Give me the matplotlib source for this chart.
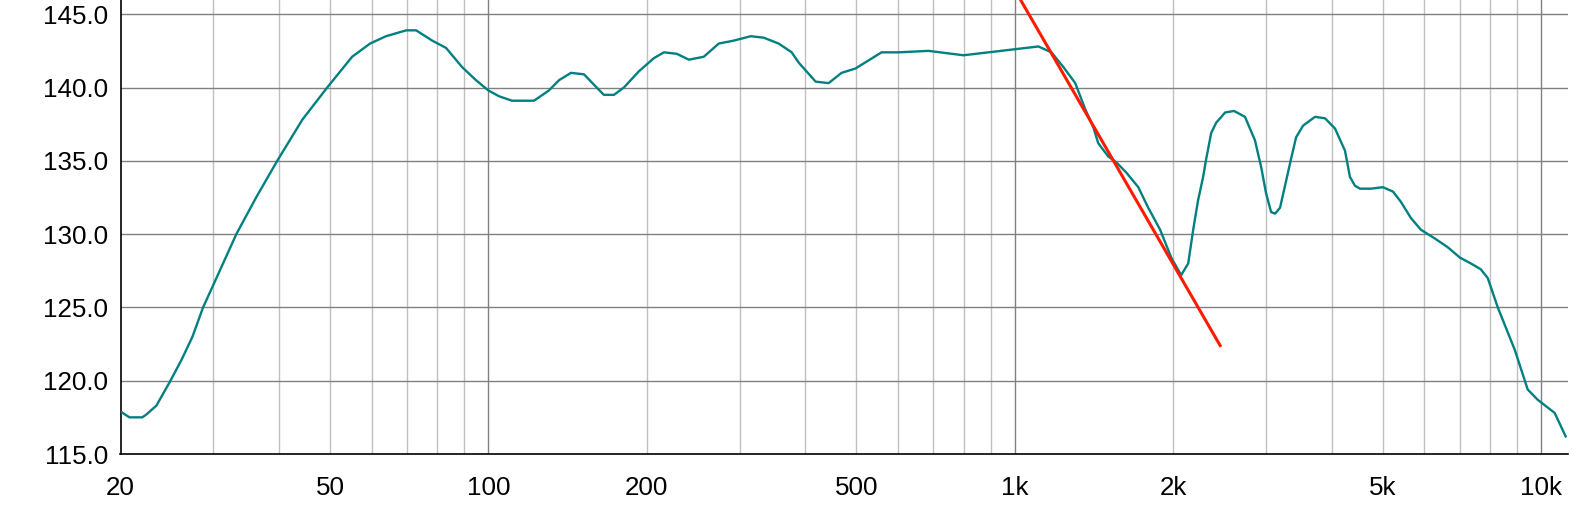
import matplotlib
matplotlib.use("Agg")
import matplotlib.pyplot as plt
from matplotlib.ticker import FixedLocator, NullLocator

plt.rcParams['font.family'] = ['Liberation Sans', 'DejaVu Sans']

# Frequency response (Hz)
freq = [20.0, 20.8, 22.0, 22.4, 23.4, 24.0, 24.8, 26.1, 27.4, 28.7,
        29.9, 33.2, 36.2, 39.7, 44.3, 49.4, 55.1, 59.6, 63.9, 69.8,
        72.9, 78.2, 83.1, 89.1, 94.7, 100.0, 104.8, 110.9, 122.1, 130.3,
        136.2, 143.5, 151.9, 158.6, 165.7, 173.2, 180.9, 193.1, 206.2, 215.5,
        228.0, 240.4, 256.6, 274.0, 292.6, 315.1, 333.4, 356.0, 376.9, 388.6,
        418.6, 443.0, 468.8, 498.4, 558.4, 601.6, 685.6, 799.0, 891.4, 994.4,
        1109, 1174, 1237, 1303, 1362, 1410, 1441, 1505, 1559, 1629,
        1717, 1793, 1889, 1983, 2071, 2136, 2183, 2230, 2280, 2310,
        2362, 2414, 2511, 2610, 2738, 2860, 2938, 3002, 3070, 3124,
        3192, 3262, 3348, 3424, 3530, 3720, 3886, 4060, 4240, 4334,
        4430, 4528, 4752, 5006, 5232, 5416, 5658, 5910, 6284, 6650,
        7010, 7354, 7682, 7920, 8274, 8914, 9432, 9854, 10614, 11136]
# Sound pressure level (dB)
spl = [117.9, 117.5, 117.5, 117.7, 118.3, 119.0, 119.9, 121.4, 123.0, 125.0,
       126.4, 130.0, 132.5, 135.0, 137.8, 140.0, 142.1, 143.0, 143.5, 143.9,
       143.9, 143.2, 142.7, 141.4, 140.5, 139.8, 139.4, 139.1, 139.1, 139.8,
       140.5, 141.0, 140.9, 140.2, 139.5, 139.5, 140.0, 141.1, 142.0, 142.4,
       142.3, 141.9, 142.1, 143.0, 143.2, 143.5, 143.4, 143.0, 142.4, 141.7,
       140.4, 140.3, 141.0, 141.3, 142.4, 142.4, 142.5, 142.2, 142.4, 142.6,
       142.8, 142.4, 141.4, 140.3, 138.5, 137.3, 136.2, 135.3, 134.9, 134.2,
       133.2, 131.8, 130.3, 128.4, 127.2, 128.0, 130.3, 132.3, 133.9, 135.1,
       136.9, 137.6, 138.3, 138.4, 138.0, 136.4, 134.6, 132.8, 131.5, 131.4,
       131.8, 133.3, 135.1, 136.6, 137.4, 138.0, 137.9, 137.2, 135.7, 133.9,
       133.3, 133.1, 133.1, 133.2, 132.9, 132.2, 131.1, 130.3, 129.7, 129.1,
       128.4, 128.0, 127.6, 127.0, 125.0, 122.1, 119.4, 118.7, 117.8, 116.2]

# Red slope line (Hz, dB)
slope_freq = [1025, 2456]
slope_spl = [146.0, 122.4]

y_ticks = [115.0, 120.0, 125.0, 130.0, 135.0, 140.0, 145.0]
x_ticks = [20, 50, 100, 200, 500, 1000, 2000, 5000, 10000]
x_labels = ["20", "50", "100", "200", "500", "1k", "2k", "5k", "10k"]
minor_grid = [30, 40, 50, 60, 70, 80, 90, 200, 300, 400, 500, 600, 700, 800, 900,
              2000, 3000, 4000, 5000, 6000, 7000, 8000, 9000]
major_grid = [100, 1000, 10000]

fig = plt.figure(figsize=(15.72, 5.12), dpi=100)
ax = fig.add_axes([120.5/1572, 1 - 454/512, (1568 - 120.5)/1572, 454/512])
ax.set_xscale('log')
ax.set_xlim(20, 11250)
ax.set_ylim(115, 145.97)

for f in minor_grid:
    ax.axvline(f, color='#c0c0c0', lw=1.0, zorder=1)
for f in major_grid:
    ax.axvline(f, color='#808080', lw=1.0, zorder=1)
for y in y_ticks[1:]:
    ax.axhline(y, color='#808080', lw=1.0, zorder=1)

ax.plot(freq, spl, color='#008080', lw=1.7, zorder=3, solid_joinstyle='round')
ax.plot(slope_freq, slope_spl, color='#ff1a00', lw=2.2, zorder=4)

ax.xaxis.set_major_locator(FixedLocator(x_ticks))
ax.xaxis.set_minor_locator(NullLocator())
ax.set_xticks(x_ticks)
ax.set_xticklabels(x_labels)
ax.set_yticks(y_ticks)
ax.set_yticklabels([f"{v:.1f}" for v in y_ticks])
ax.tick_params(axis='both', length=0, labelsize=18.7, colors='black')
ax.tick_params(axis='x', pad=16)
ax.tick_params(axis='y', pad=9)

ax.spines['top'].set_visible(False)
ax.spines['right'].set_visible(False)
ax.spines['left'].set_color('black')
ax.spines['bottom'].set_color('black')
ax.spines['left'].set_linewidth(1.2)
ax.spines['bottom'].set_linewidth(1.2)

fig.savefig('out.png', dpi=100)
